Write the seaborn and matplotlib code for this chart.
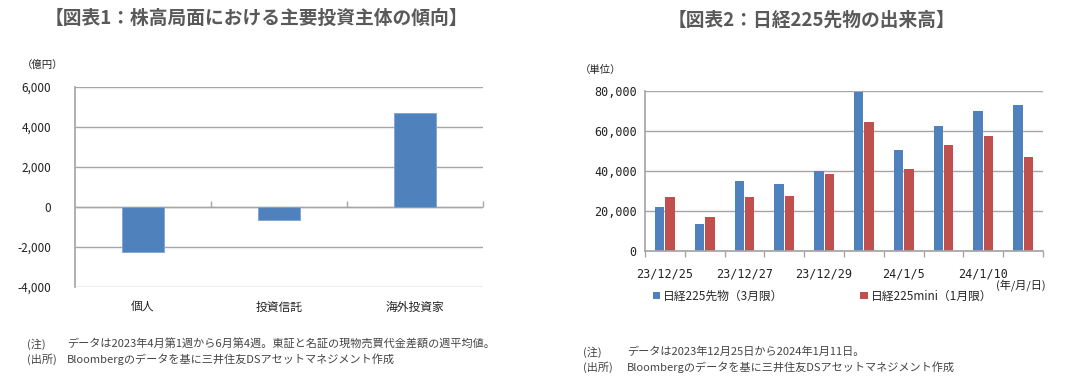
import matplotlib
matplotlib.use("Agg")
import matplotlib.pyplot as plt
import numpy as np
import pandas as pd
import seaborn as sns
from matplotlib.ticker import FuncFormatter, FixedLocator

sns.set_theme(style="white")
plt.rcParams["font.family"] = ["Noto Sans CJK JP", "DejaVu Sans"]

# ---- data: chart 1 ----
investors = ["個人", "投資信託", "海外投資家"]
net_buy = [-2240, -635, 4715]

# ---- data: chart 2 ----
dates = ["23/12/25", "23/12/26", "23/12/27", "23/12/28", "23/12/29",
         "24/1/4", "24/1/5", "24/1/9", "24/1/10", "24/1/11"]
shown_dates = ["23/12/25", "23/12/27", "23/12/29", "24/1/5", "24/1/10"]
series_names = ["日経225先物（3月限）", "日経225mini（1月限）"]
vol_large = [22000, 13700, 35000, 33500, 39800, 79300, 50300, 62500, 69800, 72800]
vol_mini = [27000, 16800, 27000, 27500, 38300, 64300, 40800, 53200, 57500, 47000]

BLUE = "#4F81BD"
RED = "#C0504D"
GRID = "#A6A6A6"
TITLE = "#595959"
TXT = "#222222"

fig = plt.figure(figsize=(10.87, 3.81), dpi=100)
W, H = 1087, 381


def fx(px):
    return px / W


def fy(py):
    return 1 - py / H


thousands = FuncFormatter(lambda v, p: f"{v:,.0f}")

# ==========================================
# Chart 1
# ==========================================
ax1 = fig.add_axes([fx(75), fy(287), fx(408), 200 / H])
sns.barplot(x=investors, y=net_buy, color=BLUE, width=0.31, saturation=1,
            edgecolor="#7FA3D3", linewidth=0.6, ax=ax1)
ax1.set_xlim(-0.5, 2.5)
ax1.set_ylim(-4000, 6000)
ax1.set_yticks(np.arange(-4000, 6001, 2000))
ax1.yaxis.set_major_formatter(thousands)
ax1.yaxis.grid(True, color=GRID, lw=1)
ax1.set_axisbelow(True)
for s in ["top", "right", "bottom"]:
    ax1.spines[s].set_visible(False)
ax1.spines["left"].set_color(GRID)
ax1.tick_params(axis="y", length=0, pad=17, labelsize=8.5, labelcolor=TXT)
ax1.tick_params(axis="x", length=0, pad=10, labelsize=8.5, labelcolor=TXT)
ax1.axhline(0, color=GRID, lw=1, zorder=0.5)
sec1 = ax1.secondary_xaxis(0.4)
sec1.set_xticks([])
sec1.xaxis.set_minor_locator(FixedLocator([0.5, 1.5, 2.5]))
sec1.tick_params(which="minor", direction="in", length=4, color=GRID)
sec1.spines["bottom"].set_visible(False)
ax1.set_xlabel("")

fig.text(fx(256), fy(18), "【図表1：株高局面における主要投資主体の傾向】",
         ha="center", va="center", fontsize=13.5, fontweight="bold", color=TITLE)
fig.text(fx(22), fy(65), "（億円）", ha="left", va="center", fontsize=7.5, color=TXT)
fig.text(fx(27), fy(344), "(注)", ha="left", va="center", fontsize=8, color="#444444")
fig.text(fx(67), fy(344), "データは2023年4月第1週から6月第4週。東証と名証の現物売買代金差額の週平均値。",
         ha="left", va="center", fontsize=8, color="#444444")
fig.text(fx(27), fy(359), "(出所)", ha="left", va="center", fontsize=8, color="#444444")
fig.text(fx(67), fy(359), "Bloombergのデータを基に三井住友DSアセットマネジメント作成",
         ha="left", va="center", fontsize=8, color="#444444")

# ==========================================
# Chart 2
# ==========================================
df2 = pd.DataFrame({
    "date": dates * 2,
    "series": [series_names[0]] * len(dates) + [series_names[1]] * len(dates),
    "volume": vol_large + vol_mini,
})
ax2 = fig.add_axes([fx(645), fy(251), fx(398), 160 / H])
sns.barplot(data=df2, x="date", y="volume", hue="series", order=dates,
            hue_order=series_names, palette=[BLUE, RED], width=0.52, gap=0.1,
            saturation=1, edgecolor="none", ax=ax2)
ax2.set_xlim(-0.5, len(dates) - 0.5)
ax2.set_ylim(0, 80000)
ax2.set_yticks(np.arange(0, 80001, 20000))
ax2.yaxis.set_major_formatter(thousands)
ax2.yaxis.grid(True, color=GRID, lw=1)
ax2.set_axisbelow(True)
for s in ["top", "right"]:
    ax2.spines[s].set_visible(False)
ax2.spines["left"].set_color(GRID)
ax2.spines["bottom"].set_color(GRID)
ax2.set_xticks([dates.index(d) for d in shown_dates])
ax2.set_xticklabels(shown_dates)
ax2.xaxis.set_minor_locator(FixedLocator(np.arange(-0.5, len(dates), 1.0)))
ax2.tick_params(axis="x", which="minor", direction="out", length=4, color=GRID, bottom=True)
ax2.tick_params(axis="x", which="major", length=0, pad=12, labelsize=8.5, labelcolor=TXT)
ax2.tick_params(axis="y", length=0, pad=6, labelsize=8.5, labelcolor=TXT)
for lab in ax2.get_yticklabels() + ax2.get_xticklabels():
    lab.set_family(["DejaVu Sans Mono", "Noto Sans CJK JP"])
ax2.set_xlabel("")
ax2.set_ylabel("")
handles, labels = ax2.get_legend_handles_labels()
ax2.legend_.remove()
fig.legend(handles, labels, loc="center left", bbox_to_anchor=(fx(648), fy(296)),
           ncol=2, frameon=False, fontsize=8.5, handlelength=0.6, handleheight=0.6,
           handletextpad=0.3, columnspacing=6.5, borderaxespad=0)

fig.text(fx(812), fy(20), "【図表2：日経225先物の出来高】",
         ha="center", va="center", fontsize=13.5, fontweight="bold", color=TITLE)
fig.text(fx(580), fy(70), "（単位）", ha="left", va="center", fontsize=7.5, color=TXT)
fig.text(fx(1046), fy(285), "(年/月/日)", ha="right", va="center", fontsize=8, color=TXT)
fig.text(fx(583), fy(352), "(注)", ha="left", va="center", fontsize=8, color="#444444")
fig.text(fx(627), fy(352), "データは2023年12月25日から2024年1月11日。",
         ha="left", va="center", fontsize=8, color="#444444")
fig.text(fx(583), fy(367), "(出所)", ha="left", va="center", fontsize=8, color="#444444")
fig.text(fx(627), fy(367), "Bloombergのデータを基に三井住友DSアセットマネジメント作成",
         ha="left", va="center", fontsize=8, color="#444444")

fig.savefig("out.png", dpi=100, facecolor="white")
